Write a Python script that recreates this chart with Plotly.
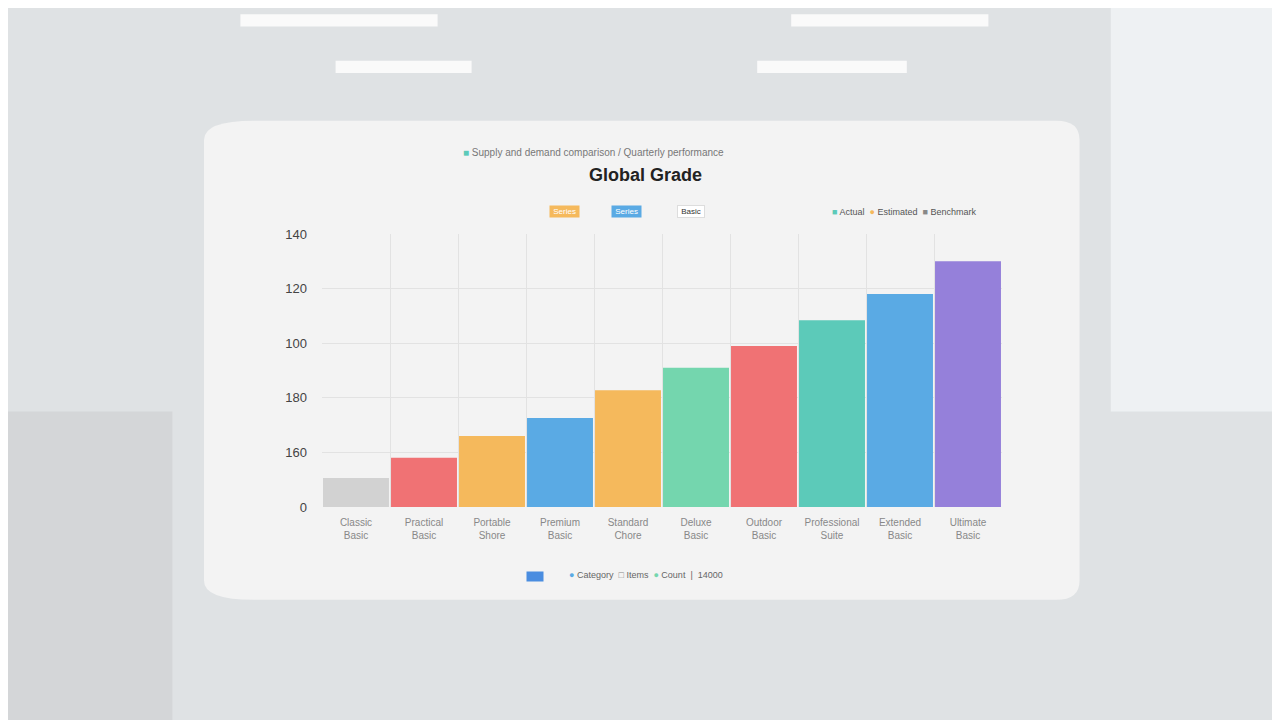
import plotly.graph_objects as go

# data (y in axis units, 20 per gridline)
categories = ["Classic<br>Basic", "Practical<br>Basic", "Portable<br>Shore", "Premium<br>Basic",
              "Standard<br>Chore", "Deluxe<br>Basic", "Outdoor<br>Basic", "Professional<br>Suite",
              "Extended<br>Basic", "Ultimate<br>Basic"]
values = [10.6, 18, 26, 32.6, 42.8, 51, 59, 68.4, 78, 90]
colors = ["#d2d2d2", "#f07274", "#f5b95c", "#5aaae4", "#f5b95c",
          "#74d6ae", "#f07274", "#5ccab9", "#5aaae4", "#9580da"]
tick_vals = [0, 20, 40, 60, 80, 100]
tick_text = ["0", "160", "180", "100", "120", "140"]

fig = go.Figure(go.Bar(x=categories, y=values, marker_color=colors,
                       marker_line_width=0, width=0.97))

shapes = [
    # room backdrop hints
    dict(type="rect", xref="paper", yref="paper", x0=-0.5, x1=1.5, y0=-1.2, y1=2.0,
         fillcolor="#dfe2e4", line_width=0, layer="below"),
    dict(type="rect", xref="paper", yref="paper", x0=1.16, x1=1.6, y0=0.35, y1=2.0,
         fillcolor="#eef1f3", line_width=0, layer="below"),
    dict(type="rect", xref="paper", yref="paper", x0=-0.5, x1=-0.22, y0=-0.9, y1=0.35,
         fillcolor="#d4d6d8", line_width=0, layer="below"),
    # card
    dict(type="path", xref="paper", yref="paper", layer="below",
         path="M -0.1,1.415 L 1.08,1.415 Q 1.114,1.415 1.114,1.345 L 1.114,-0.27 "
              "Q 1.114,-0.34 1.08,-0.34 L -0.1,-0.34 Q -0.1735,-0.34 -0.1735,-0.27 "
              "L -0.1735,1.345 Q -0.1735,1.415 -0.1,1.415 Z",
         fillcolor="#f3f3f3", line_width=0),
]
for x0, x1, y in [(-0.12, 0.17, 1.76), (0.69, 0.98, 1.76), (0.02, 0.22, 1.59), (0.64, 0.86, 1.59)]:
    shapes.append(dict(type="rect", xref="paper", yref="paper", x0=x0, x1=x1, y0=y, y1=y + 0.045,
                       fillcolor="#fafafa", line_width=0, layer="below"))

ann = [
    dict(text="<span style='color:#5ccab9'>■</span> Supply and demand comparison / Quarterly performance",
         x=0.205, y=1.325, xanchor="left", font=dict(size=10, color="#777777")),
    dict(text="<b>Global Grade</b>", x=0.476, y=1.26, font=dict(size=18, color="#222222")),
    dict(text=" Series ", x=0.357, y=1.105, font=dict(size=8, color="#ffffff"), bgcolor="#f5b95c"),
    dict(text=" Series ", x=0.448, y=1.105, font=dict(size=8, color="#ffffff"), bgcolor="#5aaae4"),
    dict(text=" Basic ", x=0.543, y=1.105, font=dict(size=8, color="#333333"), bgcolor="#ffffff",
         bordercolor="#dddddd"),
    dict(text="<span style='color:#5ccab9'>■</span> Actual  <span style='color:#f5b95c'>●</span> "
              "Estimated  <span style='color:#888'>■</span> Benchmark", x=0.856, y=1.105,
         font=dict(size=9, color="#555555")),
    dict(text="<span style='color:#5aaae4'>●</span> Category  <span style='color:#888'>□</span> "
              "Items  <span style='color:#74d6ae'>●</span> Count  |  14000", x=0.36, y=-0.275,
         xanchor="left", font=dict(size=9, color="#666666")),
    dict(text="       ", x=0.30, y=-0.275, xanchor="left", font=dict(size=7), bgcolor="#4a8de0"),
]
for a in ann:
    a.setdefault("xanchor", "center")
    a.update(xref="paper", yref="paper", showarrow=False)

fig.update_layout(
    width=1280, height=720,
    margin=dict(l=314, r=286, t=226, b=221),
    paper_bgcolor="#e3e5e7", plot_bgcolor="#f3f3f3",
    font=dict(family="Liberation Sans, Arial", color="#777777"),
    showlegend=False, bargap=0.03,
    shapes=shapes, annotations=ann,
)
fig.update_yaxes(range=[0, 100], tickvals=tick_vals, ticktext=tick_text,
                 gridcolor="#e2e2e2", zeroline=False, ticks="", tickfont=dict(size=13, color="#444"),
                 ticklabelstandoff=14)
fig.update_xaxes(showgrid=True, gridcolor="#e2e2e2", tickson="boundaries", ticks="",
                 tickangle=0, tickfont=dict(size=10, color="#888"), ticklabelstandoff=8)

fig.write_html("out.html")
